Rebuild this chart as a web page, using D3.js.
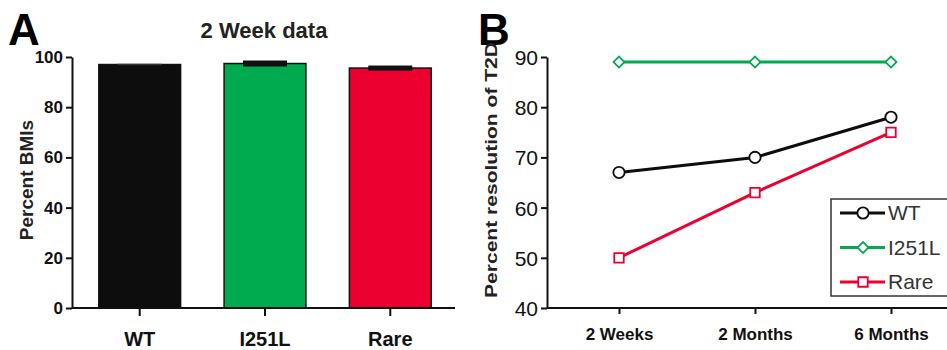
<!DOCTYPE html>
<html lang="en">
<head>
<meta charset="UTF-8">
<title>2 Week data / Percent resolution of T2D</title>
<style>
  body { margin: 0; background: #fff; }
  svg { font-family: "Liberation Sans", Arial, sans-serif; }
  .axis path, .axis line { stroke: #111; stroke-width: 2px; }
  .axis text { fill: #111; }
</style>
</head>
<body>
<script src="https://d3js.org/d3.v7.min.js"></script>
<script>
// panel A data
const groups = ['WT', 'I251L', 'Rare'];
const bmiMean = [97.0, 97.4, 95.6];
const bmiErr = [0.3, 1.2, 1.0];
const barColors = ['#0d0d0d', '#00aa4f', '#ec0030'];
const yTicksA = [0, 20, 40, 60, 80, 100];

// panel B data
const timepoints = ['2 Weeks', '2 Months', '6 Months'];
const wtT2D = [67, 70, 78];
const i251lT2D = [89, 89, 89];
const rareT2D = [50, 63, 75];
const yTicksB = [40, 50, 60, 70, 80, 90];

const svg = d3.select('body').append('svg')
  .attr('width', 947).attr('height', 350);

// ---------- panel A ----------
const xA = d3.scaleBand().domain(groups).range([75, 455]).paddingInner(0.347).paddingOuter(0.19);
const yA = d3.scaleLinear().domain([0, 100]).range([308, 57]);

svg.append('text').attr('x', 8).attr('y', 45)
  .style('font-size', '44px').attr('font-weight', 'bold').text('A');
svg.append('text').attr('x', 264).attr('y', 38).attr('text-anchor', 'middle')
  .style('font-size', '22px').attr('font-weight', 'bold').attr('fill', '#222').text('2 Week data');

svg.selectAll('.bar').data(groups).enter().append('rect')
  .attr('class', 'bar')
  .attr('x', d => xA(d))
  .attr('width', xA.bandwidth())
  .attr('y', (d, i) => yA(bmiMean[i]))
  .attr('height', (d, i) => yA(0) - yA(bmiMean[i]))
  .attr('fill', (d, i) => barColors[i])
  .attr('stroke', '#111').attr('stroke-width', 1.5);

// error bars (thick caps)
svg.selectAll('.err').data(groups).enter().append('rect')
  .attr('class', 'err')
  .attr('x', d => xA(d) + xA.bandwidth() / 2 - 22)
  .attr('width', 44)
  .attr('y', (d, i) => yA(bmiMean[i] + bmiErr[i]))
  .attr('height', (d, i) => yA(bmiMean[i] - bmiErr[i]) - yA(bmiMean[i] + bmiErr[i]))
  .attr('fill', (d, i) => i === 0 ? '#333' : '#111');

const axA = svg.append('g').attr('class', 'axis')
  .attr('transform', 'translate(72,0)')
  .call(d3.axisLeft(yA).tickValues(yTicksA).tickSize(6).tickSizeOuter(0));
axA.selectAll('text').style('font-size', '17px').attr('font-weight', 'bold');

const axAx = svg.append('g').attr('class', 'axis')
  .attr('transform', 'translate(0,308)')
  .call(d3.axisBottom(xA).tickSize(8).tickSizeOuter(0).tickPadding(16));
axAx.select('.domain').attr('d', 'M72,0H455');
axAx.selectAll('text').style('font-size', '20px').attr('font-weight', 'bold');

svg.append('text')
  .attr('transform', 'translate(33,180) rotate(-90)')
  .attr('text-anchor', 'middle').style('font-size', '19px').attr('font-weight', 'bold')
  .attr('fill', '#222').text('Percent BMIs');

// ---------- panel B ----------
const xB = d3.scalePoint().domain(timepoints).range([619, 891]);
const yB = d3.scaleLinear().domain([40, 90]).range([308, 57]);

svg.append('text').attr('x', 478).attr('y', 45)
  .style('font-size', '44px').attr('font-weight', 'bold').text('B');

const axB = svg.append('g').attr('class', 'axis')
  .attr('transform', 'translate(547,0)')
  .call(d3.axisLeft(yB).tickValues(yTicksB).tickSize(6).tickSizeOuter(0));
axB.selectAll('text').style('font-size', '21px').attr('fill', '#333').attr('dy', '0.36em');
axB.selectAll('path, line').attr('stroke', '#333');

const axBx = svg.append('g').attr('class', 'axis')
  .attr('transform', 'translate(0,308)')
  .call(d3.axisBottom(xB).tickSize(6).tickSizeOuter(0).tickPadding(14));
axBx.select('.domain').attr('d', 'M547,0H947').attr('stroke', '#333');
axBx.selectAll('line').attr('stroke', '#333');
axBx.selectAll('text').style('font-size', '17px').attr('font-weight', 'bold').attr('fill', '#333');

svg.append('text')
  .attr('transform', 'translate(497,170) rotate(-90)')
  .attr('text-anchor', 'middle').style('font-size', '16px').attr('font-weight', 'bold')
  .attr('fill', '#222').attr('textLength', 256).attr('lengthAdjust', 'spacingAndGlyphs')
  .text('Percent resolution of T2D');

const diamond = d3.symbolSquare; // rotated 45° below
const series = [
  { name: 'WT', values: wtT2D, color: '#0d0d0d', shape: d3.symbolCircle, size: 100, rot: 0 },
  { name: 'I251L', values: i251lT2D, color: '#00aa4f', shape: diamond, size: 60, rot: 45 },
  { name: 'Rare', values: rareT2D, color: '#ec0030', shape: d3.symbolSquare, size: 90, rot: 0 }
];
const line = d3.line().x((d, i) => xB(timepoints[i])).y(d => yB(d));

series.forEach(s => {
  svg.append('path').datum(s.values)
    .attr('d', line).attr('fill', 'none')
    .attr('stroke', s.color).attr('stroke-width', 3);
  svg.selectAll(null).data(s.values).enter().append('path')
    .attr('transform', (d, i) => `translate(${xB(timepoints[i])},${yB(d)}) rotate(${s.rot})`)
    .attr('d', d3.symbol().type(s.shape).size(s.size))
    .attr('fill', '#fff').attr('stroke', s.color).attr('stroke-width', 1.8);
});

// legend
const leg = svg.append('g').attr('transform', 'translate(831,199)');
leg.append('rect').attr('width', 122).attr('height', 97)
  .attr('fill', '#fff').attr('stroke', '#333').attr('stroke-width', 1.5);
series.forEach((s, i) => {
  const gy = 14 + i * 34.5;
  leg.append('line').attr('x1', 9).attr('x2', 54).attr('y1', gy).attr('y2', gy)
    .attr('stroke', s.color).attr('stroke-width', 3);
  leg.append('path').attr('transform', `translate(32,${gy}) rotate(${s.rot})`)
    .attr('d', d3.symbol().type(s.shape).size(s.size))
    .attr('fill', '#fff').attr('stroke', s.color).attr('stroke-width', 1.8);
  leg.append('text').attr('x', 57).attr('y', gy + 7)
    .style('font-size', '21px').attr('fill', '#333').text(s.name);
});
</script>
</body>
</html>
